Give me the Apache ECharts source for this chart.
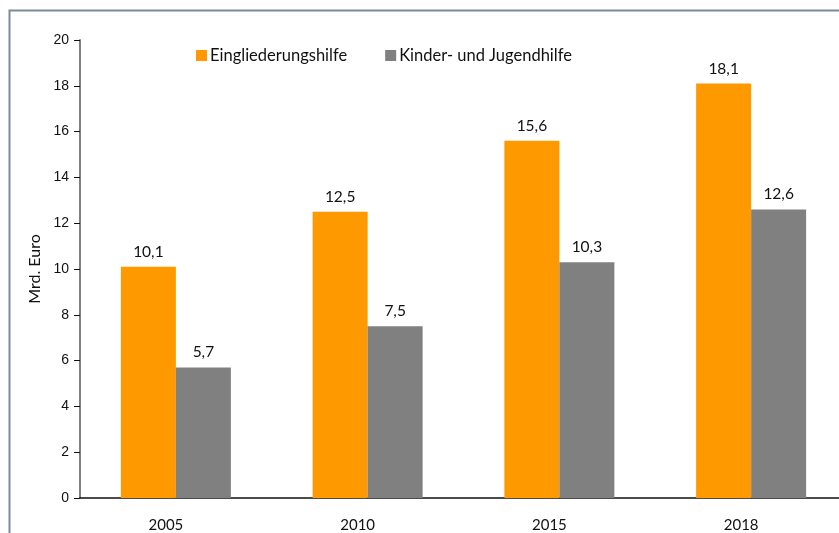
<!DOCTYPE html>
<html>
<head>
<meta charset="utf-8">
<script src="https://cdn.jsdelivr.net/npm/echarts@6/dist/echarts.min.js"></script>
<style>
  html, body { margin: 0; padding: 0; background: #fff; overflow: hidden; }
  #chart { width: 847px; height: 533px; }
</style>
</head>
<body>
<div id="chart"></div>
<script>
var years = ['2005', '2010', '2015', '2018'];
var eingliederung = [10.1, 12.5, 15.6, 18.1];
var kinderJugend = [5.7, 7.5, 10.3, 12.6];

var labelFont = 'Lato, "Open Sans", sans-serif';

function fmt(p) {
    return String(p.value).replace('.', ',');
}

// chart is a bit wider than the window, the right edge is cut off like in the original
var myChart = echarts.init(document.getElementById('chart'));
var option = {
    animation: false,
    backgroundColor: '#fff',
    graphic: [{
        type: 'rect',
        shape: { x: 9.5, y: 10.5, width: 900, height: 600 },
        style: { fill: 'none', stroke: '#7d8a97', lineWidth: 2 },
        silent: true
    }],
    grid: { left: 80, right: 0, top: 40, bottom: 35 },
    legend: {
        top: 42,
        left: 191,
        itemWidth: 11,
        itemHeight: 11,
        itemGap: 38,
        icon: 'rect',
        textStyle: { fontFamily: labelFont, fontSize: 16.5, color: '#111', padding: [0, 0, 0, -2] },
        data: ['Eingliederungshilfe', 'Kinder- und Jugendhilfe']
    },
    xAxis: {
        type: 'category',
        data: years,
        axisLine: { lineStyle: { color: '#111', width: 1.5 } },
        axisTick: { show: false },
        axisLabel: { fontFamily: labelFont, fontSize: 15, color: '#111', margin: 20, padding: [0, 20, 0, 0] }
    },
    yAxis: {
        type: 'value',
        min: 0,
        max: 20,
        interval: 2,
        name: 'Mrd. Euro',
        nameLocation: 'middle',
        nameGap: 36,
        nameTextStyle: { fontFamily: labelFont, fontSize: 16, color: '#111' },
        axisLine: { show: true, lineStyle: { color: '#808080', width: 2 } },
        axisTick: { show: true, inside: false, length: 6, lineStyle: { color: '#111' } },
        splitLine: { show: false },
        axisLabel: { fontFamily: '"Liberation Sans", Arial, sans-serif', fontSize: 14, color: '#111', margin: 11 }
    },
    series: [
        {
            name: 'Eingliederungshilfe',
            type: 'bar',
            data: eingliederung,
            barWidth: 55,
            barGap: '0%',
            itemStyle: { color: '#ff9900' },
            label: { show: true, position: 'top', distance: 7, formatter: fmt,
                     fontFamily: labelFont, fontSize: 15.5, color: '#111' }
        },
        {
            name: 'Kinder- und Jugendhilfe',
            type: 'bar',
            data: kinderJugend,
            barWidth: 55,
            itemStyle: { color: '#808080' },
            label: { show: true, position: 'top', distance: 7, formatter: fmt,
                     fontFamily: labelFont, fontSize: 15.5, color: '#111' }
        }
    ]
};
myChart.setOption(option);
</script>
</body>
</html>
